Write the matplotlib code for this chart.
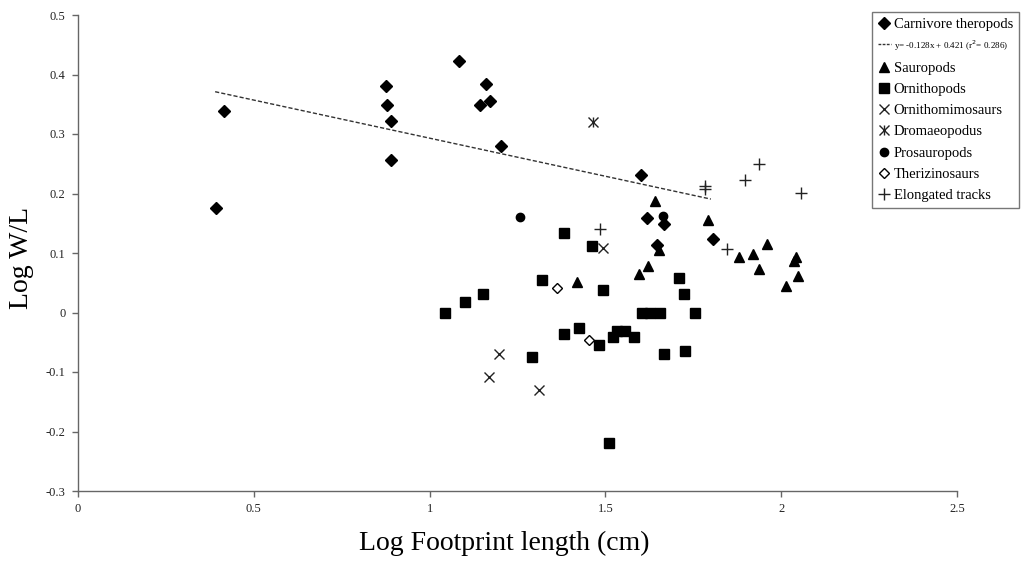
import matplotlib
matplotlib.use("Agg")
import matplotlib.pyplot as plt
from matplotlib.lines import Line2D
from matplotlib.legend_handler import HandlerTuple
import numpy as np

plt.rcParams['font.family'] = ['Liberation Serif', 'DejaVu Serif']

# ---- data ----
carn_x = [0.392, 0.414, 0.877, 0.879, 0.890, 0.890, 1.085, 1.159, 1.142, 1.171, 1.202,
          1.600, 1.619, 1.667, 1.648, 1.805]
carn_y = [0.176, 0.339, 0.380, 0.349, 0.322, 0.256, 0.422, 0.384, 0.348, 0.356, 0.279,
          0.231, 0.158, 0.148, 0.113, 0.124]

saur_x = [1.641, 1.791, 1.653, 1.880, 1.921, 1.960, 1.937, 2.042, 2.036, 2.048, 2.015,
          1.620, 1.596, 1.420]
saur_y = [0.187, 0.155, 0.105, 0.093, 0.098, 0.115, 0.073, 0.094, 0.087, 0.061, 0.045,
          0.078, 0.064, 0.051]

orni_x = [1.044, 1.101, 1.151, 1.319, 1.290, 1.382, 1.463, 1.492, 1.382, 1.425, 1.483,
          1.532, 1.556, 1.523, 1.581, 1.509, 1.603, 1.628, 1.655, 1.754, 1.708, 1.723,
          1.667, 1.725]
orni_y = [0.000, 0.018, 0.031, 0.054, -0.075, 0.134, 0.112, 0.037, -0.036, -0.026, -0.054,
          -0.031, -0.031, -0.041, -0.041, -0.220, 0.000, 0.000, 0.000, 0.000, 0.058, 0.031,
          -0.069, -0.065]

ornm_x = [1.198, 1.169, 1.311, 1.494]
ornm_y = [-0.070, -0.108, -0.130, 0.108]

drom_x = [1.465]
drom_y = [0.320]

pros_x = [1.257, 1.663]
pros_y = [0.160, 0.162]

ther_x = [1.362, 1.452]
ther_y = [0.041, -0.046]

elong_x = [1.486, 1.783, 1.783, 1.847, 1.897, 1.938, 2.056]
elong_y = [0.141, 0.212, 0.207, 0.106, 0.223, 0.249, 0.201]

reg_slope = -0.128
reg_icpt = 0.421
reg_xrange = [0.39, 1.80]

x_ticks = [0, 0.5, 1, 1.5, 2, 2.5]
x_ticklabels = ['0', '0.5', '1', '1.5', '2', '2.5']
y_ticks = [-0.3, -0.2, -0.1, 0, 0.1, 0.2, 0.3, 0.4, 0.5]
y_ticklabels = ['-0.3', '-0.2', '-0.1', '0', '0.1', '0.2', '0.3', '0.4', '0.5']

# ---- figure ----
W, H = 1023, 562
fig = plt.figure(figsize=(W / 100, H / 100), dpi=100)
ax = fig.add_axes([78 / W, 1 - 491 / H, (957 - 78) / W, (491 - 15) / H])

ms = 6
ax.plot(carn_x, carn_y, 'D', color='black', markersize=ms, linestyle='none')
ax.plot(saur_x, saur_y, '^', color='black', markersize=ms + 1, linestyle='none')
ax.plot(orni_x, orni_y, 's', color='black', markersize=ms + 0.5, linestyle='none')
ax.plot(ornm_x, ornm_y, 'x', color='#222222', markersize=ms + 1, mew=1.0, linestyle='none')
ax.plot(drom_x, drom_y, 'x', color='#222222', markersize=ms + 1, mew=1.0, linestyle='none')
ax.plot(drom_x, drom_y, '|', color='#222222', markersize=ms + 1, mew=1.0, linestyle='none')
ax.plot(pros_x, pros_y, 'o', color='black', markersize=ms, linestyle='none')
ax.plot(ther_x, ther_y, 'D', markerfacecolor='white', markeredgecolor='black',
        markersize=ms - 0.5, mew=1.0, linestyle='none')
ax.plot(elong_x, elong_y, '+', color='#222222', markersize=ms + 2, mew=1.0, linestyle='none')

rx = np.array(reg_xrange)
ax.plot(rx, reg_slope * rx + reg_icpt, linestyle=(0, (3, 1.5)), color='#333333', linewidth=1.0)

ax.set_xlim(0, 2.5)
ax.set_ylim(-0.3, 0.5)
ax.set_xticks(x_ticks)
ax.set_xticklabels(x_ticklabels)
ax.set_yticks(y_ticks)
ax.set_yticklabels(y_ticklabels)
for s in ['top', 'right']:
    ax.spines[s].set_visible(False)
for s in ['left', 'bottom']:
    ax.spines[s].set_color('#666666')
    ax.spines[s].set_linewidth(1.0)
ax.tick_params(axis='both', direction='out', length=4, width=1.0, colors='#666666',
               labelcolor='#222222', labelsize=9, pad=5)

fig.text(504 / W, 1 - 543 / H, 'Log Footprint length (cm)', fontsize=20,
         ha='center', va='center')
fig.text(22 / W, 1 - 258 / H, 'Log W/L', fontsize=20, rotation=90,
         ha='center', va='center')

# ---- legend ----
drom_handle = (Line2D([], [], marker='x', color='#222222', linestyle='none', markersize=7, mew=1.0),
               Line2D([], [], marker='|', color='#222222', linestyle='none', markersize=7, mew=1.0))
handles = [
    Line2D([], [], marker='D', color='black', linestyle='none', markersize=6),
    Line2D([], [], color='#333333', linestyle=(0, (2, 1)), linewidth=1.0),
    Line2D([], [], marker='^', color='black', linestyle='none', markersize=7),
    Line2D([], [], marker='s', color='black', linestyle='none', markersize=6.5),
    Line2D([], [], marker='x', color='#222222', linestyle='none', markersize=7, mew=1.0),
    drom_handle,
    Line2D([], [], marker='o', color='black', linestyle='none', markersize=6),
    Line2D([], [], marker='D', markerfacecolor='white', markeredgecolor='black',
           linestyle='none', markersize=5.5, mew=1.0),
    Line2D([], [], marker='+', color='#222222', linestyle='none', markersize=8, mew=1.0),
]
labels = ['Carnivore theropods', 'y= -0.128x + 0.421 (r$^2$= 0.286)', 'Sauropods',
          'Ornithopods', 'Ornithomimosaurs', 'Dromaeopodus', 'Prosauropods',
          'Therizinosaurs', 'Elongated tracks']
leg = fig.legend(handles, labels, loc='upper left', bbox_to_anchor=(872 / W, 1 - 12 / H),
                 frameon=True, fontsize=10.5, handlelength=0.9, handletextpad=0.2,
                 borderpad=0.4, labelspacing=0.55, borderaxespad=0, fancybox=False,
                 handler_map={tuple: HandlerTuple(ndivide=1)})
leg.get_frame().set_edgecolor('#555555')
leg.get_frame().set_linewidth(1.0)
leg.get_texts()[1].set_fontsize(6.5)

fig.savefig('out.png', dpi=100, facecolor='white')
